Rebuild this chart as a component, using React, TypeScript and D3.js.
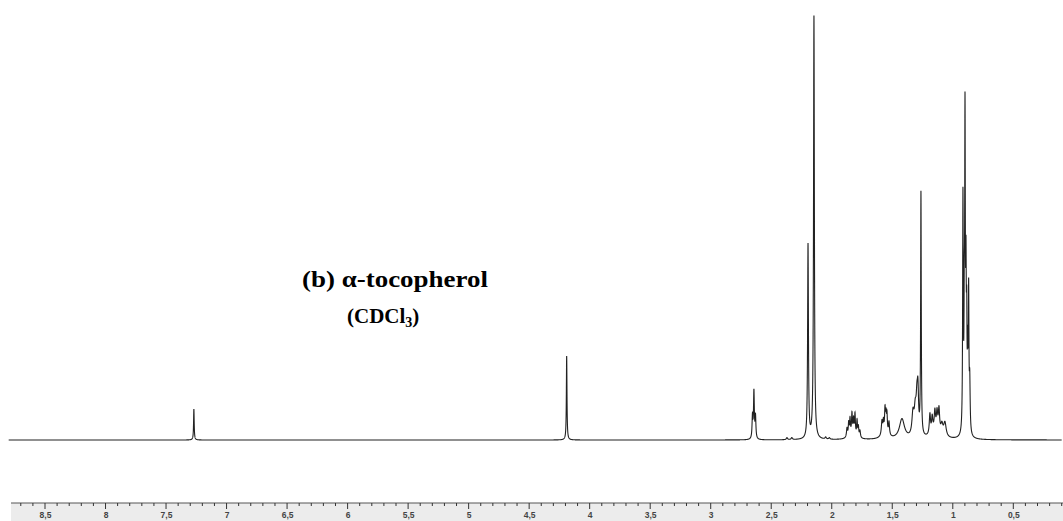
import React from "react";
import * as d3 from "d3";

// Axis ticks (ppm) and their printed labels
const TICK_VALUES = [8.5, 8, 7.5, 7, 6.5, 6, 5.5, 5, 4.5, 4, 3.5, 3, 2.5, 2, 1.5, 1, 0.5];
const TICK_LABELS = ["8,5", "8", "7,5", "7", "6,5", "6", "5,5", "5", "4,5", "4", "3,5", "3", "2,5", "2", "1,5", "1", "0,5"];

// Peak list: position (ppm), height (intensity units), half-width (ppm)
const PEAK_PPM = [
  7.27, 4.19,
  2.655, 2.643, 2.630,
  2.37, 2.33, 2.196, 2.147, 2.05, 2.02,
  1.874, 1.86, 1.849, 1.833, 1.82, 1.808, 1.791, 1.78, 1.767, 1.83,
  1.585, 1.573, 1.56, 1.552, 1.544, 1.527, 1.56, 1.42,
  1.329, 1.31, 1.296, 1.288, 1.263,
  1.189, 1.17, 1.148, 1.13, 1.114, 1.09, 1.065, 1.14,
  0.916, 0.905, 0.899, 0.891, 0.885, 0.877, 0.869, 0.86,
];
const PEAK_HEIGHT = [
  31, 84,
  22, 47, 22,
  2, 2, 194, 423, 2, 1.5,
  9, 13, 16, 20, 14, 21, 16, 10, 7, 5,
  14, 11, 22, 16, 18, 13, 6, 20,
  22, 24, 32, 36, 242,
  20, 15, 18, 17, 22, 10, 14, 9,
  233, 95, 298, 135, 95, 70, 135, 50,
];
const PEAK_WIDTH = [
  0.003, 0.003,
  0.004, 0.004, 0.004,
  0.006, 0.006, 0.004, 0.004, 0.006, 0.006,
  0.005, 0.004, 0.004, 0.004, 0.004, 0.004, 0.004, 0.004, 0.005, 0.03,
  0.006, 0.004, 0.004, 0.004, 0.004, 0.005, 0.03, 0.025,
  0.01, 0.01, 0.008, 0.006, 0.003,
  0.006, 0.006, 0.006, 0.006, 0.006, 0.01, 0.012, 0.04,
  0.003, 0.003, 0.003, 0.003, 0.003, 0.003, 0.003, 0.004,
];

const W = 1063;
const H = 521;

export default function App() {
  const x = d3.scaleLinear().domain([8.5, 0.5]).range([45, 1013.3]);
  const y = d3.scaleLinear().domain([0, 425]).range([440, 15]);

  // sample grid (plus exact peak centres) for the line-shape sum
  const grid: number[] = d3.range(8.8, 0.1, -0.0004).concat(PEAK_PPM);
  grid.sort((a, b) => b - a);
  const pts: [number, number][] = grid.map((p) => {
    let s = 0;
    for (let i = 0; i < PEAK_PPM.length; i++) {
      const d = p - PEAK_PPM[i];
      const w = PEAK_WIDTH[i];
      s += (PEAK_HEIGHT[i] * w * w) / (w * w + d * d);
    }
    return [p, s];
  });
  const line = d3
    .line<[number, number]>()
    .x((d) => x(d[0]))
    .y((d) => y(d[1]));

  const minor = d3.range(87, 0, -1).map((v) => v / 10).filter((v) => Math.abs(v * 2 - Math.round(v * 2)) > 1e-6);
  const axisY = 503;

  return (
    <svg
      width={W}
      height={H}
      style={{ position: "absolute", left: 0, top: 0, background: "#fff" }}
    >
      <rect x={0} y={0} width={W} height={H} fill="#fff" />
      <path d={line(pts) || ""} fill="none" stroke="#222" strokeWidth={1.1} />

      <text
        x={302}
        y={287}
        fontFamily="Liberation Serif"
        fontWeight="bold"
        fontSize={23}
        fill="#000"
        textLength={186}
        lengthAdjust="spacingAndGlyphs"
      >
        (b) α-tocopherol
      </text>
      <text x={347} y={323} fontFamily="Liberation Serif" fontWeight="bold" fontSize={21} fill="#000">
        (CDCl<tspan fontSize={14} dy={4}>3</tspan>
        <tspan dy={-4}>)</tspan>
      </text>

      <rect x={11} y={axisY} width={W - 11} height={H - axisY} fill="#ececec" />
      <line x1={11} x2={W} y1={axisY} y2={axisY} stroke="#555" strokeWidth={1} />
      {minor.map((v) => (
        <line key={"m" + v} x1={x(v)} x2={x(v)} y1={axisY} y2={axisY + 3} stroke="#333" strokeWidth={1} />
      ))}
      {TICK_VALUES.map((v, i) => (
        <g key={"t" + v}>
          <line x1={x(v)} x2={x(v)} y1={axisY} y2={axisY + 6} stroke="#333" strokeWidth={1} />
          <text
            x={x(v) + 0.5}
            y={518}
            textAnchor="middle"
            fontFamily="Liberation Sans"
            fontWeight="bold"
            fontSize={8.5}
            fill="#444"
          >
            {TICK_LABELS[i]}
          </text>
        </g>
      ))}
    </svg>
  );
}
